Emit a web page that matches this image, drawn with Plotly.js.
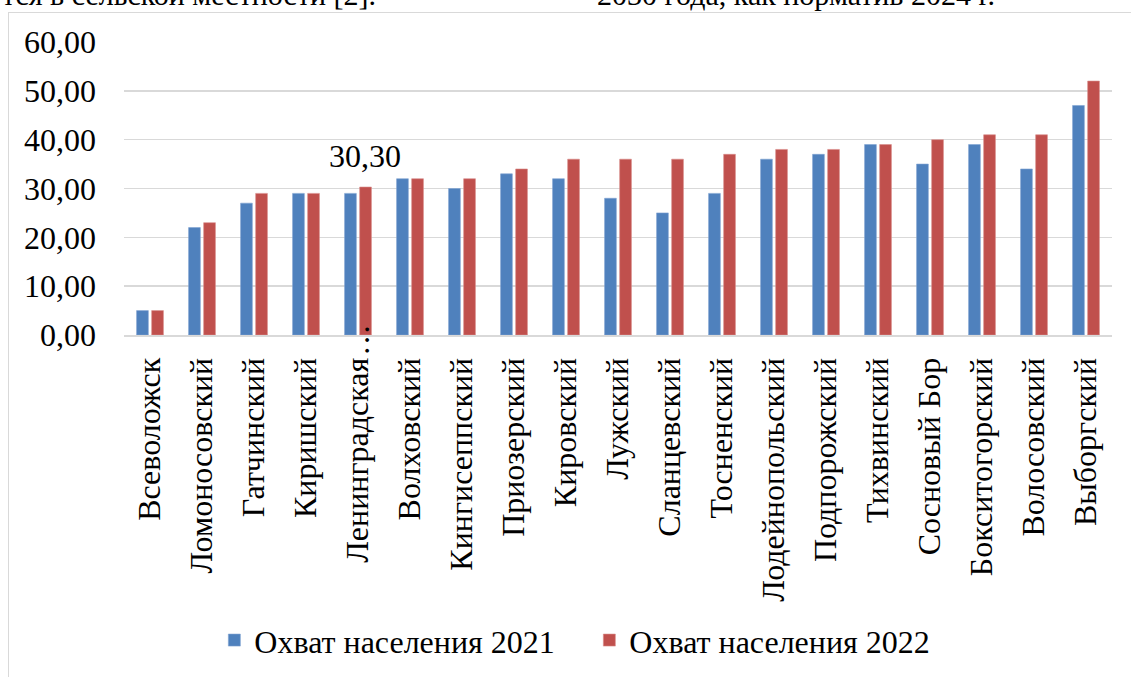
<!DOCTYPE html>
<html>
<head>
<meta charset="utf-8">
<script src="https://cdn.plot.ly/plotly-3.0.1.min.js"></script>
<style>
  html, body { margin: 0; padding: 0; background: #fff; overflow: hidden; }
  #frame { position: absolute; left: 8px; top: 12px; width: 1200px; height: 700px; border: 1px solid #d9d9d9; }
  #chart { position: absolute; left: 0; top: 0; width: 1131px; height: 677px; }
</style>
</head>
<body>
<div id="frame"></div>
<div id="chart"></div>
<script>
const categories = ["Всеволожск", "Ломоносовский", "Гатчинский", "Киришский", "Ленинградская…",
  "Волховский", "Кингисеппский", "Приозерский", "Кировский", "Лужский", "Сланцевский",
  "Тосненский", "Лодейнопольский", "Подпорожский", "Тихвинский", "Сосновый Бор",
  "Бокситогорский", "Волосовский", "Выборгский"];
const coverage2021 = [5, 22, 27, 29, 29, 32, 30, 33, 32, 28, 25, 29, 36, 37, 39, 35, 39, 34, 47];
const coverage2022 = [5, 23, 29, 29, 30.3, 32, 32, 34, 36, 36, 36, 37, 38, 38, 39, 40, 41, 41, 52];
const seriesNames = ["Охват населения 2021", "Охват населения 2022"];
const yTickVals = [0, 10, 20, 30, 40, 50, 60];
const yTickText = ["0,00", "10,00", "20,00", "30,00", "40,00", "50,00", "60,00"];
const labelIndex = 4;
const labelText = "30,30";
const topTexts = ["тся в сельской местности [2].", "2030 года, как норматив 2024 г."];

const font = "'Liberation Serif', 'Times New Roman', Times, serif";
const FS = 32;

// Truncated label: ellipsis drawn separately so it overflows toward the axis as in the source
const tickText = categories.map(c => c.replace("…", ""));

const traces = [
  { type: "bar", name: seriesNames[0], x: categories, y: coverage2021,
    marker: { color: "#4F81BD", line: { color: "#7FA3D1", width: 0.6 } } },
  { type: "bar", name: seriesNames[1], x: categories, y: coverage2022,
    marker: { color: "#C0504D", line: { color: "#D98C8A", width: 0.6 } } }
];

const layout = {
  width: 1131, height: 677,
  margin: { l: 124, r: 19, t: 42, b: 341 },
  paper_bgcolor: "rgba(0,0,0,0)", plot_bgcolor: "rgba(0,0,0,0)",
  font: { family: font, color: "#000", size: FS },
  barmode: "group", bargap: 0.42, bargroupgap: 0.22,
  showlegend: true,
  legend: { orientation: "h", x: 0.471, xanchor: "center", y: -1.035, yanchor: "middle",
            font: { family: font, size: FS }, itemwidth: 30, tracegroupgap: 0, traceorder: "normal",
            entrywidth: 330 },
  xaxis: { type: "category", tickangle: -90, tickfont: { family: font, size: FS },
           tickvals: categories, ticktext: tickText,
           showgrid: false, showline: true, linecolor: "#d9d9d9", linewidth: 2,
           ticks: "", ticklabelstandoff: 8, fixedrange: true },
  yaxis: { range: [0, 60], tickvals: yTickVals, ticktext: yTickText,
           tickfont: { family: font, size: FS }, showgrid: true, gridcolor: "#d9d9d9", gridwidth: 1.6,
           zeroline: false, showline: false, ticks: "", ticklabelstandoff: 27, fixedrange: true },
  annotations: [
    { x: categories[labelIndex], y: coverage2022[labelIndex], xref: "x", yref: "y",
      text: labelText, showarrow: false, yanchor: "bottom", yshift: 11, xshift: 7,
      font: { family: font, size: FS } },
    { x: categories[labelIndex], y: -0.017, xref: "x", yref: "paper", textangle: -90,
      text: "…", showarrow: false, yanchor: "middle", xanchor: "center", xshift: 0,
      font: { family: font, size: FS } },
    { x: -0.1255, y: 1.1, xref: "paper", yref: "paper", xanchor: "left", yanchor: "bottom",
      text: topTexts[0], showarrow: false, font: { family: font, size: 30 } },
    { x: 0.477, y: 1.1, xref: "paper", yref: "paper", xanchor: "left", yanchor: "bottom",
      text: topTexts[1], showarrow: false, font: { family: font, size: 30 } }
  ]
};

Plotly.newPlot("chart", traces, layout, { displayModeBar: false, staticPlot: true });
</script>
</body>
</html>
